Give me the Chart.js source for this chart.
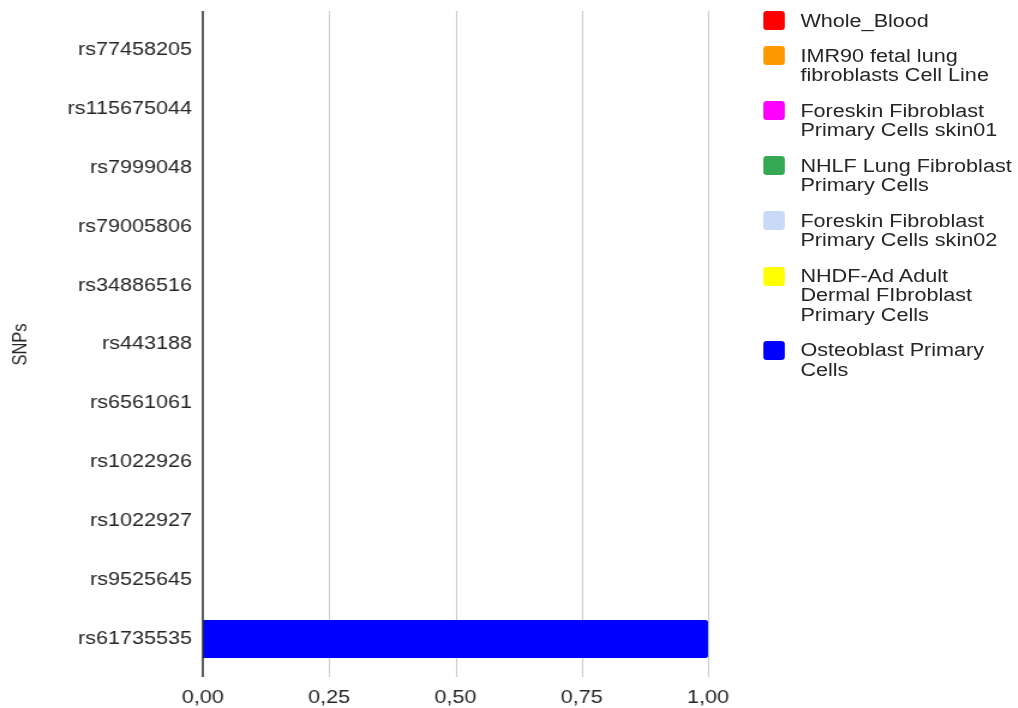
<!DOCTYPE html>
<html>
<head>
<meta charset="utf-8">
<script src="https://cdn.jsdelivr.net/npm/chart.js@4/dist/chart.umd.min.js"></script>
<style>
  html, body { margin: 0; padding: 0; background: #fff; overflow: hidden; }
  #wrap { position: relative; width: 848px; height: 708px; transform: scaleX(1.2); transform-origin: 0 0; }
  #legend { position: absolute; left: 636px; top: 0; width: 212px; font-family: 'Liberation Sans', Arial, sans-serif; font-size: 18px; line-height: 19.4px; color: #262626; }
  .item { position: absolute; left: 0; }
  .box { position: absolute; left: 0; top: -0.5px; width: 18px; height: 19px; border-radius: 3px; }
  .txt { position: absolute; left: 31px; top: 0; width: 181px; }
</style>
</head>
<body>
<div id="wrap">
  <canvas id="c" width="848" height="708"></canvas>
  <div id="legend"></div>
</div>
<script>
const snps = ['rs77458205','rs115675044','rs7999048','rs79005806','rs34886516','rs443188','rs6561061','rs1022926','rs1022927','rs9525645','rs61735535'];
const seriesNames = ['Whole_Blood','IMR90 fetal lung fibroblasts Cell Line','Foreskin Fibroblast Primary Cells skin01','NHLF Lung Fibroblast Primary Cells','Foreskin Fibroblast Primary Cells skin02','NHDF-Ad Adult Dermal FIbroblast Primary Cells','Osteoblast Primary Cells'];
const seriesColors = ['#ff0000','#ff9900','#ff00ff','#34a853','#c9daf8','#ffff00','#0000ff'];
const wholeBlood      = [0,0,0,0,0,0,0,0,0,0,0];
const imr90           = [0,0,0,0,0,0,0,0,0,0,0];
const foreskinSkin01  = [0,0,0,0,0,0,0,0,0,0,0];
const nhlf            = [0,0,0,0,0,0,0,0,0,0,0];
const foreskinSkin02  = [0,0,0,0,0,0,0,0,0,0,0];
const nhdfAd          = [0,0,0,0,0,0,0,0,0,0,0];
const osteoblast      = [0,0,0,0,0,0,0,0,0,0,1];
const seriesValues = [wholeBlood, imr90, foreskinSkin01, nhlf, foreskinSkin02, nhdfAd, osteoblast];
const xTickValues = [0, 0.25, 0.5, 0.75, 1];

const FONT = "'Liberation Sans', Arial, sans-serif";
const TEXT = '#262626';

const vLines = {
  id: 'vLines',
  beforeDatasetsDraw(chart) {
    const {ctx, chartArea, scales: {x}} = chart;
    ctx.save();
    ctx.strokeStyle = '#cccccc';
    ctx.lineWidth = 1.1;
    x.ticks.forEach(t => {
      if (t.value === 0) return;
      const px = Math.round(x.getPixelForValue(t.value)) + 0.5;
      ctx.beginPath();
      ctx.moveTo(px, chartArea.top - 9.5);
      ctx.lineTo(px, chartArea.bottom + 8.5);
      ctx.stroke();
    });
    ctx.restore();
  },
  afterDatasetsDraw(chart) {
    const {ctx, chartArea, scales: {x}} = chart;
    const px = x.getPixelForValue(0);
    ctx.save();
    ctx.strokeStyle = '#333333';
    ctx.lineWidth = 1.6;
    ctx.beginPath();
    ctx.moveTo(px, chartArea.top - 9.5);
    ctx.lineTo(px, chartArea.bottom + 8.5);
    ctx.stroke();
    ctx.restore();
  }
};

new Chart(document.getElementById('c'), {
  type: 'bar',
  data: {
    labels: snps,
    datasets: seriesNames.map((n, i) => ({
      label: n,
      data: seriesValues[i],
      backgroundColor: seriesColors[i],
      borderWidth: 0,
      borderRadius: 2,
      borderSkipped: 'start',
      categoryPercentage: 1,
      barPercentage: 0.645
    }))
  },
  options: {
    indexAxis: 'y',
    responsive: false,
    animation: false,
    devicePixelRatio: 1,
    layout: { padding: { top: 20.5, right: 258, left: 0, bottom: 0 } },
    plugins: { legend: { display: false }, tooltip: { enabled: false } },
    scales: {
      x: {
        type: 'linear', stacked: true, min: 0, max: 1,
        afterBuildTicks(s) { s.ticks = xTickValues.map(v => ({ value: v })); },
        afterFit(s) { s.height = 39.5; },
        grid: { display: false, drawTicks: false },
        border: { display: false },
        ticks: {
          padding: 18.5,
          color: TEXT,
          font: { family: FONT, size: 18 },
          callback: v => Number(v).toFixed(2).replace('.', ',')
        }
      },
      y: {
        type: 'category', stacked: true,
        afterFit(s) { s.width = 169; },
        grid: { display: false, drawTicks: false },
        border: { display: false },
        ticks: { padding: 9, color: TEXT, font: { family: FONT, size: 18 } },
        title: { display: true, text: 'SNPs', color: TEXT, font: { family: FONT, size: 16.5 }, padding: { top: 8, bottom: 0 } }
      }
    }
  },
  plugins: [vLines]
});

// HTML legend built from the series arrays
const legend = document.getElementById('legend');
let y = 11.5;
const probe = document.createElement('div');
probe.className = 'txt';
probe.style.visibility = 'hidden';
legend.appendChild(probe);
seriesNames.forEach((n, i) => {
  probe.textContent = n;
  const h = probe.offsetHeight;
  const item = document.createElement('div');
  item.className = 'item';
  item.style.top = y + 'px';
  const box = document.createElement('div');
  box.className = 'box';
  box.style.background = seriesColors[i];
  const txt = document.createElement('div');
  txt.className = 'txt';
  txt.textContent = n;
  item.appendChild(box);
  item.appendChild(txt);
  legend.appendChild(item);
  y += h + 16.1;
});
legend.removeChild(probe);
</script>
</body>
</html>
